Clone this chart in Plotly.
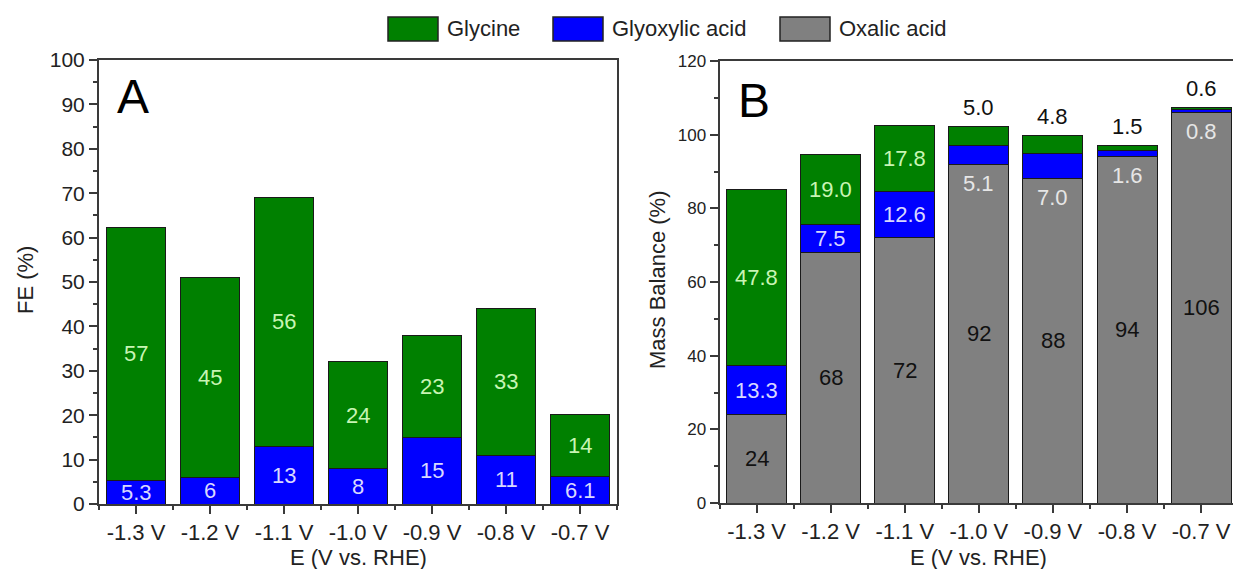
import plotly.graph_objects as go

# ---- data -------------------------------------------------------------
potentials = ["-1.3 V", "-1.2 V", "-1.1 V", "-1.0 V", "-0.9 V", "-0.8 V", "-0.7 V"]

# Panel A: Faradaic efficiency (%)
fe_glyoxylic = [5.3, 6, 13, 8, 15, 11, 6.1]
fe_glycine = [57, 45, 56, 24, 23, 33, 14]
fe_glyoxylic_text = ["5.3", "6", "13", "8", "15", "11", "6.1"]
fe_glycine_text = ["57", "45", "56", "24", "23", "33", "14"]

# Panel B: mass balance (%)
mb_oxalic = [24, 68, 72, 92, 88, 94, 106]
mb_glyoxylic = [13.3, 7.5, 12.6, 5.1, 7.0, 1.6, 0.8]
mb_glycine = [47.8, 19.0, 17.8, 5.0, 4.8, 1.5, 0.6]
mb_oxalic_text = ["24", "68", "72", "92", "88", "94", "106"]
mb_glyoxylic_text = ["13.3", "7.5", "12.6", "5.1", "7.0", "1.6", "0.8"]
mb_glycine_text = ["47.8", "19.0", "17.8", "5.0", "4.8", "1.5", "0.6"]

# ---- styling ----------------------------------------------------------
W, H = 1233, 569
FONT = "Liberation Sans, Arial, sans-serif"
GREEN, BLUE, GRAY = "#008000", "#0000ff", "#808080"
EDGE = "#1a1a1a"
AXIS = "#3a3a3a"
LBL_GREEN, LBL_BLUE, LBL_GRAY = "#c8f5b4", "#d8d8ff", "#e6e6e6"
BAR_W = 0.81
TXT = 22

idx = list(range(len(potentials)))


def px_x(p):
    return p / W


def px_y(p):
    return 1 - p / H


fig = go.Figure()

# Panel A bars
fig.add_trace(go.Bar(x=idx, y=fe_glyoxylic, width=BAR_W, marker=dict(color=BLUE, line=dict(color=EDGE, width=1)),
                     xaxis="x", yaxis="y", name="Glyoxylic acid", showlegend=False))
fig.add_trace(go.Bar(x=idx, y=fe_glycine, width=BAR_W, marker=dict(color=GREEN, line=dict(color=EDGE, width=1)),
                     xaxis="x", yaxis="y", name="Glycine", showlegend=False))

# Panel B bars
fig.add_trace(go.Bar(x=idx, y=mb_oxalic, width=BAR_W, marker=dict(color=GRAY, line=dict(color=EDGE, width=1)),
                     xaxis="x2", yaxis="y2", name="Oxalic acid", showlegend=False))
fig.add_trace(go.Bar(x=idx, y=mb_glyoxylic, width=BAR_W, marker=dict(color=BLUE, line=dict(color=EDGE, width=1)),
                     xaxis="x2", yaxis="y2", name="Glyoxylic acid", showlegend=False))
fig.add_trace(go.Bar(x=idx, y=mb_glycine, width=BAR_W, marker=dict(color=GREEN, line=dict(color=EDGE, width=1)),
                     xaxis="x2", yaxis="y2", name="Glycine", showlegend=False))

annotations = []


def label(xr, yr, x, y, text, color, yshift=0, size=TXT):
    annotations.append(dict(xref=xr, yref=yr, x=x, y=y, text=text, showarrow=False,
                            font=dict(family=FONT, size=size, color=color),
                            xanchor="center", yanchor="middle", yshift=yshift))


# Panel A value labels, centred in each segment
for i in idx:
    b = fe_glyoxylic[i]
    label("x", "y", i, b / 2, fe_glyoxylic_text[i], LBL_BLUE)
    label("x", "y", i, b + fe_glycine[i] / 2, fe_glycine_text[i], LBL_GREEN)

# Panel B value labels
for i in idx:
    ox, gx, gl = mb_oxalic[i], mb_glyoxylic[i], mb_glycine[i]
    label("x2", "y2", i, ox / 2, mb_oxalic_text[i], "#111111")
    if gl >= 10:
        label("x2", "y2", i, ox + gx / 2, mb_glyoxylic_text[i], LBL_BLUE)
        label("x2", "y2", i, ox + gx + gl / 2, mb_glycine_text[i], LBL_GREEN)
    else:
        # thin segments: glyoxylic value inside the oxalic bar, glycine value above the stack
        label("x2", "y2", i, ox, mb_glyoxylic_text[i], LBL_GRAY, yshift=-19)
        label("x2", "y2", i, ox + gx + gl, mb_glycine_text[i], "#111111", yshift=19)

# Panel letters
annotations.append(dict(xref="paper", yref="paper", x=px_x(133), y=px_y(96), text="A", showarrow=False,
                        font=dict(family=FONT, size=48, color="#000"), xanchor="center", yanchor="middle"))
annotations.append(dict(xref="paper", yref="paper", x=px_x(754), y=px_y(100), text="B", showarrow=False,
                        font=dict(family=FONT, size=48, color="#000"), xanchor="center", yanchor="middle"))

# Axis titles
title_font = dict(family=FONT, size=TXT, color="#222")
annotations.append(dict(xref="paper", yref="paper", x=px_x(25), y=px_y(280), text="FE (%)", textangle=-90,
                        showarrow=False, font=title_font, xanchor="center", yanchor="middle"))
annotations.append(dict(xref="paper", yref="paper", x=px_x(657), y=px_y(280), text="Mass Balance (%)", textangle=-90,
                        showarrow=False, font=title_font, xanchor="center", yanchor="middle"))
annotations.append(dict(xref="paper", yref="paper", x=px_x(358), y=px_y(557), text="E (V vs. RHE)",
                        showarrow=False, font=title_font, xanchor="center", yanchor="middle"))
annotations.append(dict(xref="paper", yref="paper", x=px_x(978), y=px_y(557), text="E (V vs. RHE)",
                        showarrow=False, font=title_font, xanchor="center", yanchor="middle"))

# Legend drawn across the top
shapes = []
legend_items = [("Glycine", GREEN, 388), ("Glyoxylic acid", BLUE, 553), ("Oxalic acid", GRAY, 780)]
for name, col, x0 in legend_items:
    shapes.append(dict(type="rect", xref="paper", yref="paper", x0=px_x(x0), x1=px_x(x0 + 50),
                       y0=px_y(41), y1=px_y(17), fillcolor=col, line=dict(color="#222", width=1.5)))
    annotations.append(dict(xref="paper", yref="paper", x=px_x(x0 + 57), y=px_y(29), text=name,
                            showarrow=False, font=title_font, xanchor="left", yanchor="middle"))

axis_common = dict(showline=True, linewidth=2, linecolor=AXIS, mirror=True, showgrid=False, zeroline=False,
                   ticks="outside", tickwidth=2, tickcolor=AXIS, automargin=False)

xa = dict(axis_common, tickmode="array", tickvals=idx, ticktext=potentials, range=[-0.5, 6.5], ticklen=8,
          tickfont=dict(family=FONT, size=TXT, color="#222"),
          minor=dict(ticks="outside", ticklen=4, tickwidth=2, tickcolor=AXIS, tickmode="linear", tick0=0.5, dtick=1))

fig.update_layout(
    width=W, height=H,
    margin=dict(l=0, r=0, t=0, b=0),
    paper_bgcolor="white", plot_bgcolor="white",
    barmode="stack",
    font=dict(family=FONT),
    xaxis=dict(xa, domain=[px_x(99), px_x(617)], anchor="y"),
    yaxis=dict(axis_common, domain=[px_y(504), px_y(60)], range=[0, 100], dtick=10, ticklen=8, anchor="x",
               tickfont=dict(family=FONT, size=21, color="#222"),
               minor=dict(ticks="outside", ticklen=4, tickwidth=2, tickcolor=AXIS, dtick=5)),
    xaxis2=dict(xa, domain=[px_x(719.5), 1.0], range=[-0.5, 6.43], anchor="y2"),
    yaxis2=dict(axis_common, domain=[px_y(503), px_y(61)], range=[0, 120], dtick=20, ticklen=8, anchor="x2",
                tickfont=dict(family=FONT, size=17, color="#222"),
                minor=dict(ticks="outside", ticklen=4, tickwidth=2, tickcolor=AXIS, dtick=10)),
    annotations=annotations,
    shapes=shapes,
    showlegend=False,
)

fig.write_html("out.html")
